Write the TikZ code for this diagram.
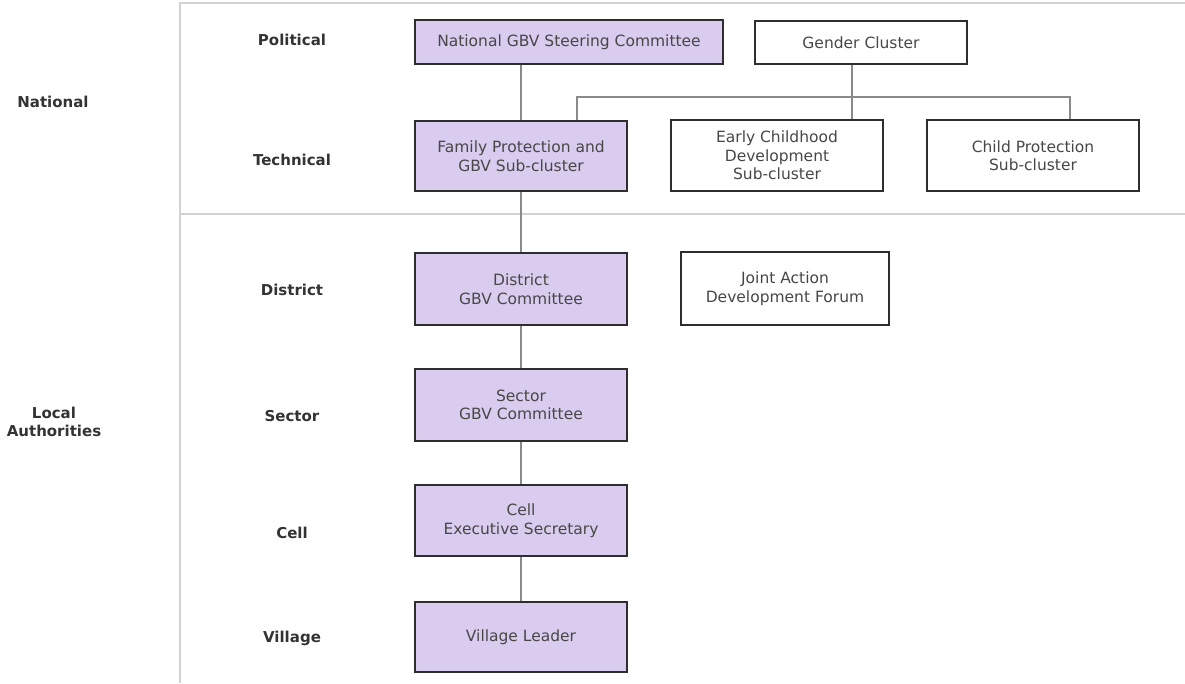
\documentclass[tikz,border=0pt]{standalone}
\usepackage{fontspec}
\setmainfont{DejaVu Sans}
\usetikzlibrary{positioning,calc}
\definecolor{gbvpurple}{HTML}{D9CCEF}
\definecolor{boxline}{HTML}{2E2E2E}
\definecolor{linkgray}{HTML}{8A8A8A}
\definecolor{framegray}{HTML}{D2D2D2}
\definecolor{labeltext}{HTML}{333333}

\begin{document}
\begin{tikzpicture}[x=1pt,y=-1pt]
  \tikzset{org box/.style={draw=boxline,line width=1.1pt,fill=#1,minimum width=212pt,minimum height=71pt,align=center,text=black!72,font=\fontsize{15.5}{18.5}\selectfont,inner sep=2pt},
    org box/.default=white,
    level/.style={font=\bfseries\fontsize{15}{17.5}\selectfont,text=labeltext,align=center},
    link/.style={draw=linkgray,line width=1.1pt}}%

  \useasboundingbox (0,0) rectangle (1185,683);

  % frame of the table
  \draw[framegray,line width=1.6pt] (1185,3) -- (180,3) -- (180,683);
  \draw[framegray,line width=1.6pt] (180,214) -- (1185,214);

  % row labels
  \node[level] (national) at (53,102) {National};
  \node[level] (local) at (54,422) {Local\\Authorities};
  \node[level] (political) at (292,40) {Political};
  \node[level] (technical) at (292,160) {Technical};
  \node[level] (district) at (292,290) {District};
  \node[level] (sector) at (292,416) {Sector};
  \node[level] (cell) at (292,533) {Cell};
  \node[level] (village) at (292,638) {Village};

  % boxes
  \node[org box=gbvpurple,minimum width=308pt,minimum height=44pt] (steering) at (569,42) {National GBV Steering Committee};
  \node[org box,minimum height=43pt] (gender) at (861,42.5) {Gender Cluster};
  \node[org box=gbvpurple,minimum height=70pt] (famprot) at (521,156) {Family Protection and\\GBV Sub-cluster};
  \node[org box] (ecd) at (777,155.5) {Early Childhood\\Development\\Sub-cluster};
  \node[org box] (childprot) at (1033,155.5) {Child Protection\\Sub-cluster};
  \node[org box=gbvpurple,minimum height=72pt] (distgbv) at (521,289) {District\\GBV Committee};
  \node[org box,minimum width=208pt,minimum height=73pt] (jadf) at (785,288.5) {Joint Action\\Development Forum};
  \node[org box=gbvpurple,minimum height=72pt] (sectgbv) at (521,405) {Sector\\GBV Committee};
  \node[org box=gbvpurple] (cellsec) at (521,520.5) {Cell\\Executive Secretary};
  \node[org box=gbvpurple,minimum height=70pt] (leader) at (521,637) {Village Leader};

  % purple chain
  \draw[link] (famprot.north |- steering.south) -- (famprot.north);
  \draw[link] (famprot) -- (distgbv);
  \draw[link] (distgbv) -- (sectgbv);
  \draw[link] (sectgbv) -- (cellsec);
  \draw[link] (cellsec) -- (leader);

  % gender cluster branches
  \coordinate (hub) at (852,97);
  \coordinate (barL) at (577,97);
  \coordinate (barR) at (1070,97);
  \draw[link] (hub |- gender.south) -- (hub |- ecd.north);
  \draw[link] (barL |- famprot.north) -- (barL) -- (barR) -- (barR |- childprot.north);
\end{tikzpicture}
\end{document}
